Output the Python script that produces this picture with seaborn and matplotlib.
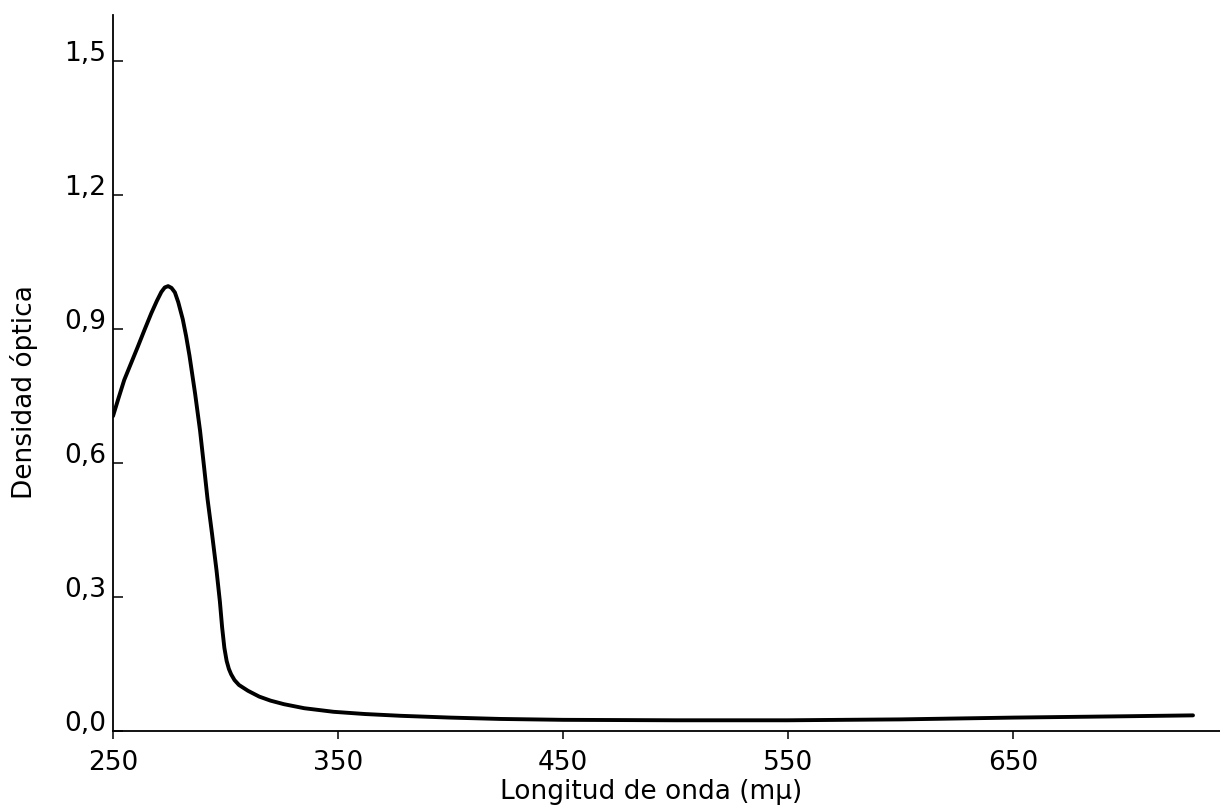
import matplotlib
matplotlib.use('Agg')
import matplotlib.pyplot as plt
import pandas as pd
import seaborn as sns

longitud = [250, 252.5, 255, 258, 261, 264, 267, 269.5, 271.5, 273, 274.5, 276,
            277.5, 279, 281, 282.5, 284, 286.5, 288.7, 290.5, 292, 294, 296,
            297.5, 298.5, 299.5, 300.5, 301.5, 302.5, 304, 306, 310, 315, 320,
            326, 335, 348, 362, 378, 400, 422, 450, 500, 550, 600, 650, 700, 730]
densidad = [0.705, 0.746, 0.786, 0.823, 0.860, 0.898, 0.935, 0.963, 0.983, 0.993,
            0.996, 0.992, 0.982, 0.960, 0.922, 0.884, 0.840, 0.755, 0.672, 0.590,
            0.520, 0.442, 0.360, 0.290, 0.232, 0.186, 0.157, 0.139, 0.127, 0.114,
            0.103, 0.090, 0.077, 0.068, 0.060, 0.051, 0.043, 0.038, 0.034, 0.030,
            0.027, 0.025, 0.024, 0.024, 0.026, 0.030, 0.033, 0.035]

x_ticks = [250, 350, 450, 550, 650]
y_ticks = [0.0, 0.3, 0.6, 0.9, 1.2, 1.5]
y_tick_labels = ['0,0', '0,3', '0,6', '0,9', '1,2', '1,5']

df = pd.DataFrame({'longitud': longitud, 'densidad': densidad})

sns.set_style('ticks')
plt.rcParams['font.family'] = ['DejaVu Sans']
plt.rcParams['text.color'] = 'black'
plt.rcParams['axes.labelcolor'] = 'black'

fig = plt.figure(figsize=(12.2, 8.08), dpi=100)
ax = fig.add_axes([113 / 1220, 77 / 808, 1 - 113 / 1220, 716 / 808])

sns.lineplot(data=df, x='longitud', y='densidad', color='black', lw=2.8,
             solid_joinstyle='round', solid_capstyle='round', ax=ax)

ax.set_xlim(250, 742)
ax.set_ylim(0, 1.603)
ax.set_xticks(x_ticks)
ax.set_xticklabels([str(v) for v in x_ticks])
ax.set_yticks(y_ticks)
ax.set_yticklabels(y_tick_labels)

ax.tick_params(axis='x', direction='out', length=6, width=1.1, pad=8,
               labelsize=19, colors='black')
ax.tick_params(axis='y', direction='in', length=7, width=1.1, pad=5,
               labelsize=19, colors='black')
plt.setp(ax.get_yticklabels(), va='baseline')

sns.despine(ax=ax)
for s in ['left', 'bottom']:
    ax.spines[s].set_linewidth(1.3)
    ax.spines[s].set_color('black')

ax.set_xlabel('Longitud de onda (mμ)', fontsize=19, va='center', color='black')
ax.xaxis.set_label_coords(0.486, -0.085)
ax.set_ylabel('Densidad óptica', fontsize=19, va='center', color='black')
ax.yaxis.set_label_coords(-0.0804, 0.473)

fig.savefig('out.png', dpi=100, facecolor='white')
